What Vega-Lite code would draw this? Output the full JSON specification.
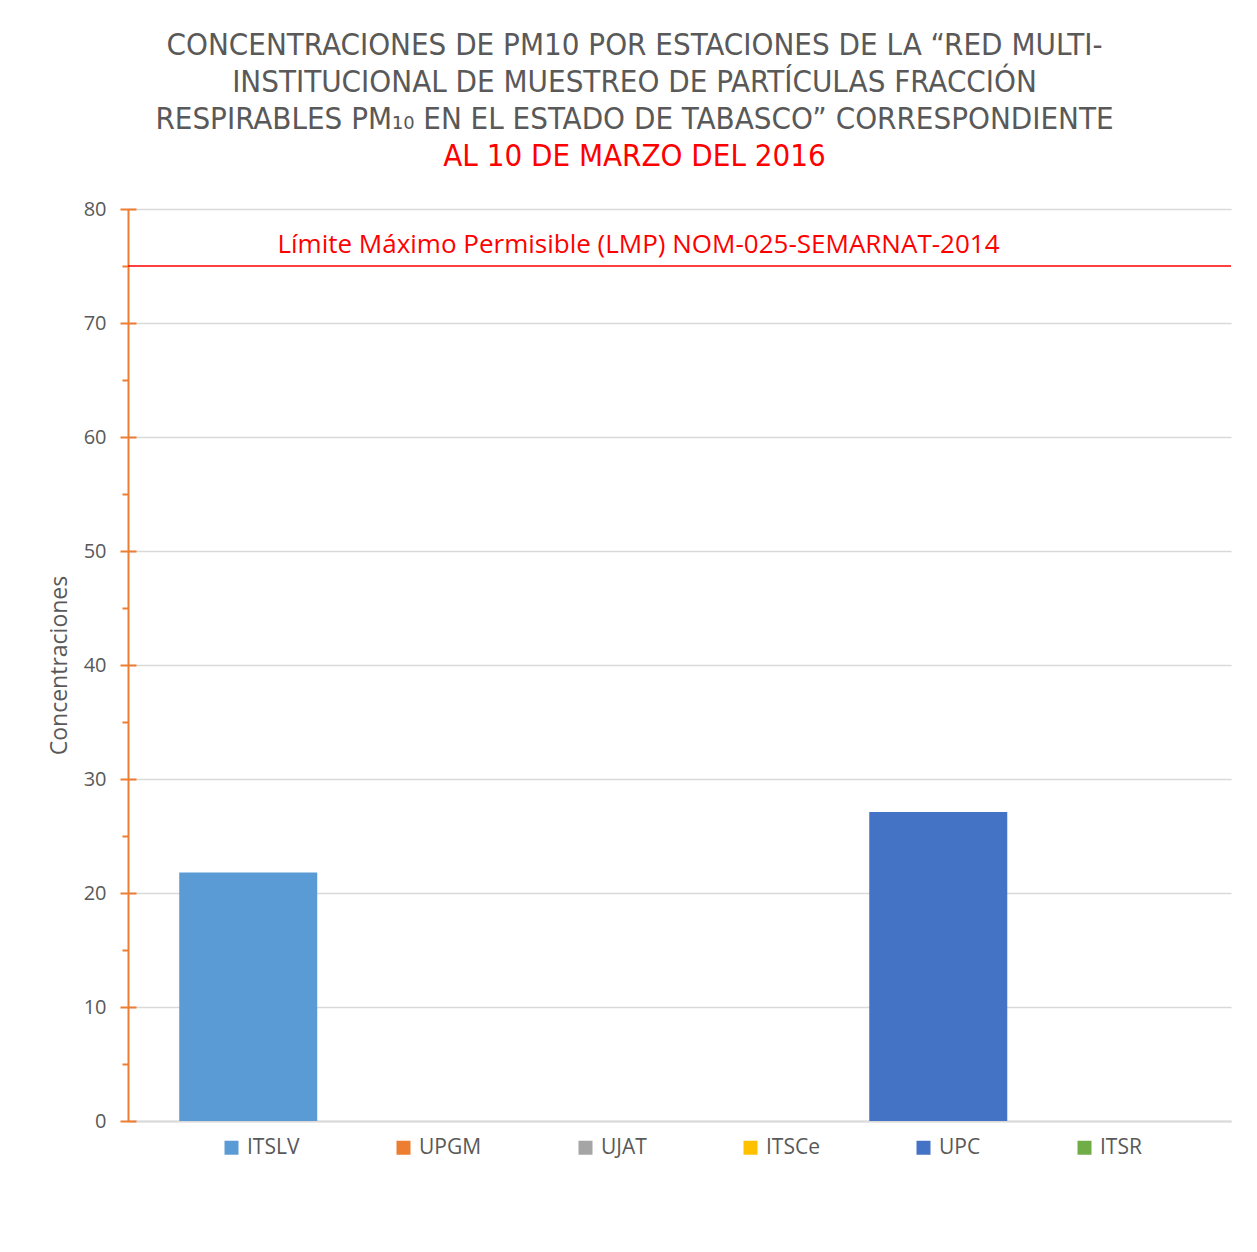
{
  "$schema": "https://vega.github.io/schema/vega-lite/v6.json",
  "width": 1103,
  "height": 912,
  "autosize": {"type": "none"},
  "padding": {"left": 128, "top": 209, "right": 26, "bottom": 131},
  "background": "white",
  "config": {"view": {"stroke": null}, "font": "Open Sans"},
  "title": {
    "text": [
      "CONCENTRACIONES  DE PM10 POR ESTACIONES DE LA “RED MULTI-",
      "INSTITUCIONAL DE MUESTREO DE PARTÍCULAS FRACCIÓN",
      "RESPIRABLES PM₁₀ EN EL ESTADO DE TABASCO” CORRESPONDIENTE"
    ],
    "subtitle": "AL 10 DE MARZO DEL 2016",
    "anchor": "middle",
    "dx": -45,
    "offset": 26,
    "font": "DejaVu Sans Condensed, Roboto Condensed, Roboto",
    "fontSize": 31,
    "fontWeight": "normal",
    "color": "#595959",
    "lineHeight": 37,
    "subtitleFont": "DejaVu Sans Condensed, Roboto Condensed, Roboto",
    "subtitleFontSize": 31,
    "subtitleColor": "#FF0000",
    "subtitlePadding": 6
  },
  "layer": [
    {
      "data": {
        "values": [
          {"station": "ITSLV", "value": 21.8},
          {"station": "UPGM", "value": 0},
          {"station": "UJAT", "value": 0},
          {"station": "ITSCe", "value": 0},
          {"station": "UPC", "value": 27.1},
          {"station": "ITSR", "value": 0}
        ]
      },
      "mark": {"type": "bar"},
      "encoding": {
        "x": {
          "field": "station",
          "type": "nominal",
          "sort": ["ITSLV", "UPGM", "UJAT", "ITSCe", "UPC", "ITSR"],
          "scale": {"paddingInner": 0.2, "paddingOuter": 0.297},
          "axis": {"title": null, "labels": false, "ticks": false, "domain": true, "domainColor": "#D9D9D9", "domainWidth": 2}
        },
        "y": {
          "field": "value",
          "type": "quantitative",
          "scale": {"domain": [0, 80]},
          "axis": {
            "orient": "left",
            "values": [0, 10, 20, 30, 40, 50, 60, 70, 80],
            "title": "Concentraciones",
            "titleFont": "Open Sans",
            "titleFontSize": 23,
            "titleFontWeight": "normal",
            "titleColor": "#595959",
            "titlePadding": 12,
            "labelFont": "Open Sans",
            "labelFontSize": 20,
            "labelColor": "#595959",
            "labelPadding": 22,
            "ticks": false,
            "domain": true,
            "domainColor": "#ED7D31",
            "domainWidth": 2,
            "grid": true,
            "gridColor": "#D9D9D9",
            "gridWidth": 1.5
          }
        },
        "color": {
          "field": "station",
          "type": "nominal",
          "scale": {
            "domain": ["ITSLV", "UPGM", "UJAT", "ITSCe", "UPC", "ITSR"],
            "range": ["#5B9BD5", "#ED7D31", "#A5A5A5", "#FFC000", "#4472C4", "#70AD47"]
          },
          "legend": {
            "title": null,
            "orient": "none",
            "legendX": 93,
            "legendY": 928,
            "direction": "horizontal",
            "columns": 6,
            "columnPadding": 93,
            "symbolType": "square",
            "symbolSize": 196,
            "symbolStrokeWidth": 0,
            "labelFont": "Open Sans",
            "labelFontSize": 21,
            "labelColor": "#595959",
            "labelOffset": 5
          }
        }
      }
    },
    {
      "data": {"values": [{"limit": 75, "label": "Límite Máximo Permisible (LMP) NOM-025-SEMARNAT-2014"}]},
      "mark": {"type": "rule", "color": "#FF0000", "strokeWidth": 1.3},
      "encoding": {
        "y": {
          "field": "limit",
          "type": "quantitative",
          "axis": {
            "orient": "left",
            "values": [5, 15, 25, 35, 45, 55, 65, 75],
            "title": null,
            "labels": false,
            "domain": false,
            "grid": false,
            "ticks": true,
            "tickSize": 6,
            "tickColor": "#ED7D31",
            "tickWidth": 2
          }
        }
      }
    },
    {
      "data": {"values": [{"limit": 75, "label": "Límite Máximo Permisible (LMP) NOM-025-SEMARNAT-2014"}]},
      "mark": {"type": "text", "color": "#FF0000", "font": "Open Sans", "fontSize": 26, "dx": -41, "dy": -21, "align": "center", "baseline": "middle"},
      "encoding": {
        "y": {
          "field": "limit",
          "type": "quantitative",
          "axis": {
            "orient": "left",
            "offset": -8,
            "values": [0, 10, 20, 30, 40, 50, 60, 70, 80],
            "title": null,
            "labels": false,
            "domain": false,
            "grid": false,
            "ticks": true,
            "tickSize": 16,
            "tickColor": "#ED7D31",
            "tickWidth": 2
          }
        },
        "text": {"field": "label"}
      }
    }
  ],
  "resolve": {"axis": {"y": "independent"}}
}
